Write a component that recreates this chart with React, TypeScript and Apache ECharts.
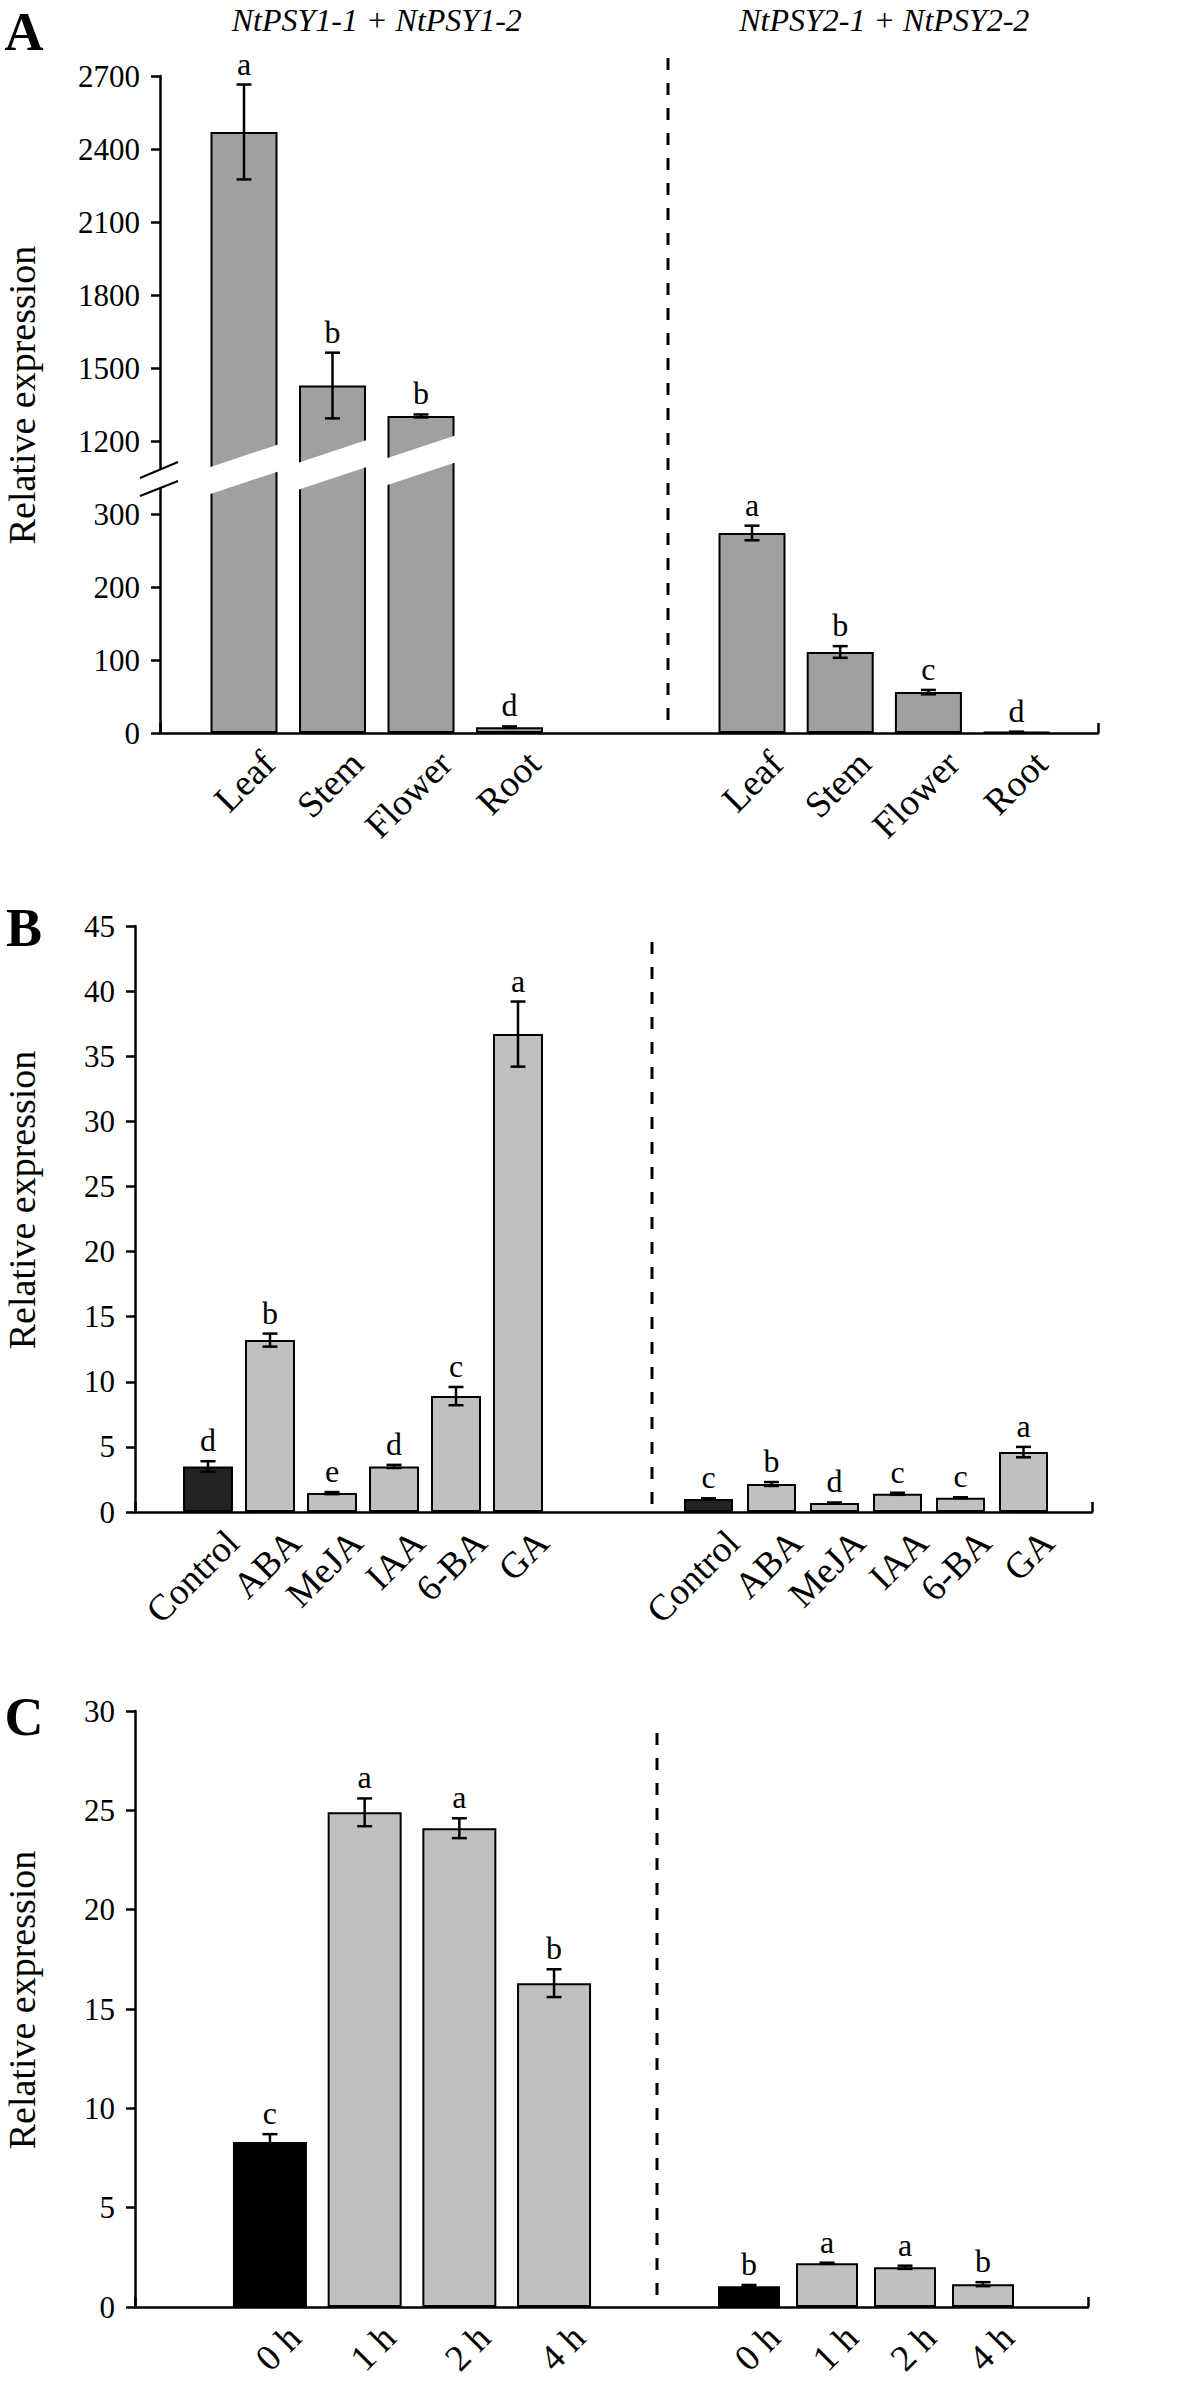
import React, { useEffect, useRef } from "react";
import * as echarts from "echarts";

// ---------- DATA ----------
const tissueCategories = ["Leaf", "Stem", "Flower", "Root"];
const psy1TissueValues = [2470, 1428, 1303, 8];
const psy1TissueErrors = [195, 135, 6, 1];
const psy1TissueLetters = ["a", "b", "b", "d"];
const psy2TissueValues = [274, 111, 56, 1.5];
const psy2TissueErrors = [10, 8, 3, 0.3];
const psy2TissueLetters = ["a", "b", "c", "d"];
const tissueTickLabels = [0, 100, 200, 300, 1200, 1500, 1800, 2100, 2400, 2700];

const hormoneCategories = ["Control", "ABA", "MeJA", "IAA", "6-BA", "GA"];
const psy1HormoneValues = [3.5, 13.2, 1.45, 3.5, 8.9, 36.7];
const psy1HormoneErrors = [0.4, 0.5, 0.08, 0.12, 0.7, 2.5];
const psy1HormoneLetters = ["d", "b", "e", "d", "c", "a"];
const psy2HormoneValues = [1.0, 2.15, 0.7, 1.4, 1.1, 4.6];
const psy2HormoneErrors = [0.05, 0.15, 0.03, 0.08, 0.03, 0.4];
const psy2HormoneLetters = ["c", "b", "d", "c", "c", "a"];

const timeCategories = ["0 h", "1 h", "2 h", "4 h"];
const psy1TimeValues = [8.3, 24.9, 24.1, 16.3];
const psy1TimeErrors = [0.4, 0.7, 0.5, 0.7];
const psy1TimeLetters = ["c", "a", "a", "b"];
const psy2TimeValues = [1.05, 2.2, 2.0, 1.15];
const psy2TimeErrors = [0.06, 0.03, 0.08, 0.1];
const psy2TimeLetters = ["b", "a", "a", "b"];

const geneTitles = ["NtPSY1-1 + NtPSY1-2", "NtPSY2-1 + NtPSY2-2"];
const panelLetters = ["A", "B", "C"];
const yAxisTitle = "Relative expression";

// ---------- broken axis for panel A ----------
const BREAK_LOW = 300;
const BREAK_HIGH = 1200;
const UPPER_COMPRESSION = 3;
const toBroken = (v: number) =>
  v <= BREAK_LOW ? v : BREAK_LOW + 100 + (v - BREAK_HIGH) / UPPER_COMPRESSION;
const fromBroken = (d: number) =>
  d <= BREAK_LOW ? d : BREAK_HIGH + (d - BREAK_LOW - 100) * UPPER_COMPRESSION;
const identity = (v: number) => v;

const FONT = '"Liberation Serif", "Times New Roman", Times, serif';
const GREY_A = "#a0a0a0";
const GREY_LIGHT = "#c0c0c0";

type Group = {
  categories: string[];
  values: number[];
  errors: number[];
  letters: string[];
  start: number;
  step: number;
  barW: number;
  colors: (i: number) => string;
};

type Panel = {
  letter: string;
  axisX: number;
  endX: number;
  topY: number;
  zeroY: number;
  dashX: number;
  dashTop: number;
  max: number;
  interval: number;
  transform: (v: number) => number;
  labelFormatter: (v: number) => string;
  groups: Group[];
  letterY: number;
  titleCenterY: number;
};

const panels: Panel[] = [
  {
    letter: panelLetters[0],
    axisX: 160,
    endX: 1098,
    topY: 76,
    zeroY: 733,
    dashX: 668,
    dashTop: 58,
    max: toBroken(tissueTickLabels[tissueTickLabels.length - 1]),
    interval: 100,
    transform: toBroken,
    labelFormatter: (v: number) => String(Math.round(fromBroken(v))),
    letterY: 32,
    titleCenterY: 395,
    groups: [
      {
        categories: tissueCategories,
        values: psy1TissueValues,
        errors: psy1TissueErrors,
        letters: psy1TissueLetters,
        start: 199.75,
        step: 88.5,
        barW: 67,
        colors: () => GREY_A,
      },
      {
        categories: tissueCategories,
        values: psy2TissueValues,
        errors: psy2TissueErrors,
        letters: psy2TissueLetters,
        start: 707.9,
        step: 88.2,
        barW: 67,
        colors: () => GREY_A,
      },
    ],
  },
  {
    letter: panelLetters[1],
    axisX: 135,
    endX: 1092,
    topY: 926,
    zeroY: 1512,
    dashX: 652,
    dashTop: 942,
    max: 45,
    interval: 5,
    transform: identity,
    labelFormatter: (v: number) => String(v),
    letterY: 928,
    titleCenterY: 1200,
    groups: [
      {
        categories: hormoneCategories,
        values: psy1HormoneValues,
        errors: psy1HormoneErrors,
        letters: psy1HormoneLetters,
        start: 177,
        step: 62,
        barW: 50,
        colors: (i) => (i === 0 ? "#222222" : GREY_LIGHT),
      },
      {
        categories: hormoneCategories,
        values: psy2HormoneValues,
        errors: psy2HormoneErrors,
        letters: psy2HormoneLetters,
        start: 677,
        step: 63,
        barW: 49,
        colors: (i) => (i === 0 ? "#222222" : GREY_LIGHT),
      },
    ],
  },
  {
    letter: panelLetters[2],
    axisX: 135,
    endX: 1088,
    topY: 1711,
    zeroY: 2307,
    dashX: 657,
    dashTop: 1733,
    max: 30,
    interval: 5,
    transform: identity,
    labelFormatter: (v: number) => String(v),
    letterY: 1717,
    titleCenterY: 2000,
    groups: [
      {
        categories: timeCategories,
        values: psy1TimeValues,
        errors: psy1TimeErrors,
        letters: psy1TimeLetters,
        start: 222.6,
        step: 94.7,
        barW: 74,
        colors: (i) => (i === 0 ? "#000000" : GREY_LIGHT),
      },
      {
        categories: timeCategories,
        values: psy2TimeValues,
        errors: psy2TimeErrors,
        letters: psy2TimeLetters,
        start: 710,
        step: 78,
        barW: 62,
        colors: (i) => (i === 0 ? "#000000" : GREY_LIGHT),
      },
    ],
  },
];

function errorSeries(
  axisIndex: number,
  g: Group,
  transform: (v: number) => number
) {
  return {
    type: "custom",
    xAxisIndex: axisIndex,
    yAxisIndex: axisIndex,
    clip: false,
    silent: true,
    z: 10,
    data: g.values.map((v, i) => [
      i,
      transform(v),
      transform(v + g.errors[i]),
      transform(Math.max(0, v - g.errors[i])),
    ]),
    encode: { x: 0, y: [1, 2, 3] },
    renderItem: (params: any, api: any) => {
      const x = api.value(0);
      const hi = api.coord([x, api.value(2)]);
      const lo = api.coord([x, api.value(3)]);
      const cap = 7.5;
      const stroke = { stroke: "#000", lineWidth: 2.5 };
      return {
        type: "group",
        children: [
          { type: "line", shape: { x1: hi[0], y1: hi[1], x2: lo[0], y2: lo[1] }, style: stroke },
          { type: "line", shape: { x1: hi[0] - cap, y1: hi[1], x2: hi[0] + cap, y2: hi[1] }, style: stroke },
          { type: "line", shape: { x1: lo[0] - cap, y1: lo[1], x2: lo[0] + cap, y2: lo[1] }, style: stroke },
          {
            type: "text",
            x: hi[0],
            y: hi[1] - 5,
            style: {
              text: g.letters[params.dataIndex],
              font: `32px ${FONT}`,
              fill: "#000",
              textAlign: "center",
              textVerticalAlign: "bottom",
              align: "center",
              verticalAlign: "bottom",
            },
          },
        ],
      };
    },
  };
}

function textEl(text: string, x: number, y: number, font: string, rotation = 0) {
  return {
    type: "text",
    x,
    y,
    rotation,
    z: 60,
    silent: true,
    style: {
      text,
      font,
      fill: "#000",
      textAlign: "center",
      textVerticalAlign: "middle",
      align: "center",
      verticalAlign: "middle",
    },
  };
}

function buildOption() {
  const grid: any[] = [];
  const xAxis: any[] = [];
  const yAxis: any[] = [];
  const series: any[] = [];
  const graphic: any[] = [];
  const axisStyle = { color: "#000", width: 2.5 };

  panels.forEach((p, pi) => {
    const h = p.zeroY - p.topY;
    const frame = grid.length;
    grid.push({ left: p.axisX, top: p.topY, width: p.endX - p.axisX, height: h, containLabel: false, outerBoundsMode: "none" });
    xAxis.push({
      gridIndex: frame,
      type: "category",
      data: [""],
      boundaryGap: true,
      axisLine: { show: true, lineStyle: axisStyle },
      axisTick: { show: true, inside: true, length: 10, lineStyle: axisStyle },
      axisLabel: { show: false },
      splitLine: { show: false },
    });
    yAxis.push({
      gridIndex: frame,
      type: "value",
      min: 0,
      max: p.max,
      interval: p.interval,
      axisLine: { show: true, lineStyle: axisStyle },
      axisTick: { show: true, inside: false, length: 9, lineStyle: axisStyle },
      axisLabel: {
        fontFamily: FONT,
        fontSize: 31,
        color: "#000",
        margin: 20,
        formatter: p.labelFormatter,
      },
      splitLine: { show: false },
    });
    series.push({ type: "bar", xAxisIndex: frame, yAxisIndex: frame, data: [], silent: true });

    p.groups.forEach((g) => {
      const gi = grid.length;
      grid.push({ left: g.start, top: p.topY, width: g.step * g.categories.length, height: h, containLabel: false, outerBoundsMode: "none" });
      xAxis.push({
        gridIndex: gi,
        type: "category",
        data: g.categories,
        axisLine: { show: false },
        axisTick: { show: false },
        axisLabel: {
          rotate: 45,
          interval: 0,
          fontFamily: FONT,
          fontSize: 37,
          color: "#000",
          margin: 0,
          verticalAlign: "top",
          padding: [16, 0, 0, 0],
        },
        splitLine: { show: false },
      });
      yAxis.push({ gridIndex: gi, type: "value", min: 0, max: p.max, interval: p.interval, show: false, splitLine: { show: false } });
      series.push({
        type: "bar",
        xAxisIndex: gi,
        yAxisIndex: gi,
        data: g.values.map(p.transform),
        barWidth: g.barW,
        silent: true,
        itemStyle: {
          color: (prm: any) => g.colors(prm.dataIndex),
          borderColor: "#000",
          borderWidth: 2,
        },
      });
      series.push(errorSeries(gi, g, p.transform));
    });

    graphic.push({
      type: "line",
      z: 40,
      silent: true,
      shape: { x1: p.dashX, y1: p.dashTop, x2: p.dashX, y2: p.zeroY },
      style: { stroke: "#000", lineWidth: 3, lineDash: [12, 13] },
    });
    graphic.push(textEl(p.letter, 24, p.letterY, `bold 54px ${FONT}`));
    graphic.push(textEl(yAxisTitle, 22, p.titleCenterY, `38px ${FONT}`, Math.PI / 2));

    if (pi === 0) {
      p.groups.forEach((g, k) => {
        const cx = g.start + (g.step * g.categories.length) / 2;
        graphic.push(textEl(geneTitles[k], cx, 20, `italic 32px ${FONT}`));
      });
      const g = p.groups[0];
      g.values.forEach((v, i) => {
        if (v <= BREAK_HIGH) return;
        const cx = g.start + g.step * (i + 0.5);
        const xl = cx - g.barW / 2 - 3;
        const xr = cx + g.barW / 2 + 3;
        const yl = p.zeroY - 265 - 4.5 * i;
        const yr = yl - (xr - xl) / 3;
        const th = 27;
        graphic.push({
          type: "polygon",
          z: 45,
          silent: true,
          shape: { points: [[xl, yl], [xr, yr], [xr, yr + th], [xl, yl + th]] },
          style: { fill: "#fff", stroke: "none" },
        });
      });
      const ax = p.axisX;
      const a1 = [ax - 20, p.zeroY - 255];
      const a2 = [ax + 18, p.zeroY - 271];
      const b1 = [ax - 20, p.zeroY - 237];
      const b2 = [ax + 18, p.zeroY - 252];
      graphic.push({
        type: "polygon",
        z: 45,
        silent: true,
        shape: { points: [a1, a2, b2, b1] },
        style: { fill: "#fff", stroke: "none" },
      });
      graphic.push({ type: "line", z: 46, silent: true, shape: { x1: a1[0], y1: a1[1], x2: a2[0], y2: a2[1] }, style: { stroke: "#000", lineWidth: 2 } });
      graphic.push({ type: "line", z: 46, silent: true, shape: { x1: b1[0], y1: b1[1], x2: b2[0], y2: b2[1] }, style: { stroke: "#000", lineWidth: 2 } });
    }
  });

  return {
    animation: false,
    backgroundColor: "#ffffff",
    grid,
    xAxis,
    yAxis,
    series,
    graphic: { elements: graphic },
  };
}

export default function App() {
  const ref = useRef<HTMLDivElement | null>(null);
  useEffect(() => {
    document.body.style.margin = "0";
    if (!ref.current) return;
    const chart = echarts.init(ref.current, undefined, { renderer: "svg" });
    chart.setOption(buildOption() as any);
    return () => chart.dispose();
  }, []);
  return <div ref={ref} style={{ width: 1181, height: 2382, background: "#fff" }} />;
}
